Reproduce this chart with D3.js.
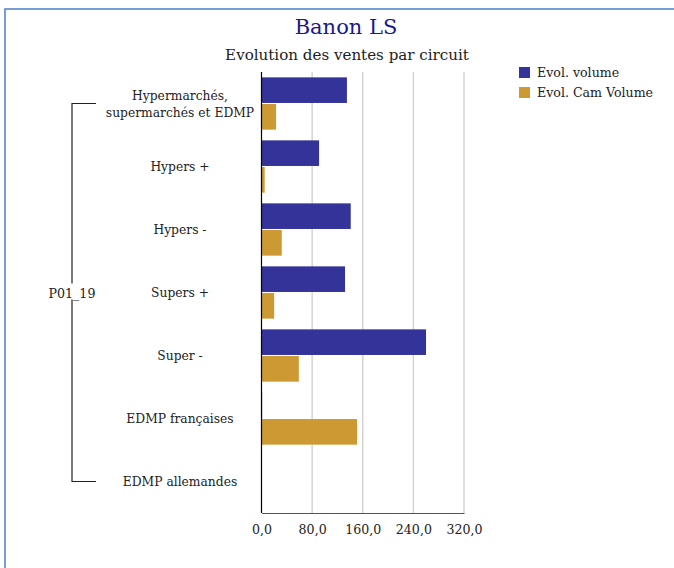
<!DOCTYPE html>
<html>
<head>
<meta charset="utf-8">
<script src="https://cdn.jsdelivr.net/npm/d3@7"></script>
<style>
  body { margin: 0; background: #fff; }
  text { font-family: "DejaVu Serif", "Liberation Serif", serif; fill: #222; }
</style>
</head>
<body>
<div class="graph"></div>
<script>
// categories (top to bottom) and the two series
var categories = [
  ["Hypermarchés,", "supermarchés et EDMP"],
  ["Hypers +"],
  ["Hypers -"],
  ["Supers +"],
  ["Super -"],
  ["EDMP françaises"],
  ["EDMP allemandes"]
];
var seriesNames = ["Evol. volume", "Evol. Cam Volume"];
var volume    = [135, 91, 141, 132, 260, 1, 0.5];
var camVolume = [23, 5, 32, 20, 59, 151, 0.5];
var xTicks = [0, 80, 160, 240, 320];
var groupLabel = "P01_19";

var W = 674, H = 568;
var margin = {top: 72, left: 261.5, right: 210, bottom: 55};
var width = 464 - margin.left,
    height = 513 - margin.top;

var color = d3.scaleOrdinal().domain(seriesNames).range(["#333399", "#cc9933"]);

var svg = d3.select(".graph").append("svg")
    .attr("width", W)
    .attr("height", H);

// frame
svg.append("rect")
    .attr("x", 5).attr("y", 9)
    .attr("width", W + 10).attr("height", H + 10)
    .attr("fill", "none")
    .attr("stroke", "#4a7fc8")
    .attr("stroke-width", 1.5);

svg.append("text")
    .attr("x", 346).attr("y", 34)
    .attr("text-anchor", "middle")
    .style("font-size", "21px")
    .style("fill", "#1a1a8c")
    .text("Banon LS");

svg.append("text")
    .attr("x", 347).attr("y", 60)
    .attr("text-anchor", "middle")
    .style("font-size", "15.1px")
    .text("Evolution des ventes par circuit");

var g = svg.append("g")
    .attr("transform", "translate(" + margin.left + "," + margin.top + ")");

var x = d3.scaleLinear().domain([0, 320]).range([0, width]);
var y0 = d3.scaleBand().domain(d3.range(categories.length)).range([0, height]).paddingInner(0.17).paddingOuter(0.085);
var y1 = d3.scaleBand().domain(seriesNames).range([0, y0.bandwidth()]).paddingInner(0.04);

// grid
g.selectAll(".grid").data(xTicks.slice(1))
  .enter().append("line")
    .attr("class", "grid")
    .attr("x1", function(d) { return x(d); })
    .attr("x2", function(d) { return x(d); })
    .attr("y1", 0).attr("y2", height)
    .attr("stroke", "#d4d4d4")
    .attr("stroke-width", 1.5);

var rows = categories.map(function(c, i) {
  return [
    {name: seriesNames[0], value: volume[i]},
    {name: seriesNames[1], value: camVolume[i]}
  ];
});

var grp = g.selectAll(".cat").data(rows)
  .enter().append("g")
    .attr("class", "cat")
    .attr("transform", function(d, i) { return "translate(0," + y0(i) + ")"; });

grp.selectAll("rect").data(function(d) { return d; })
  .enter().append("rect")
    .attr("x", 0)
    .attr("y", function(d) { return y1(d.name); })
    .attr("width", function(d) { return x(d.value); })
    .attr("height", y1.bandwidth())
    .style("fill", function(d) { return color(d.name); });

// zero line and bottom axis
g.append("line")
    .attr("x1", 0).attr("x2", 0).attr("y1", 0).attr("y2", height)
    .attr("stroke", "#000").attr("stroke-width", 1.2);

var xAxis = d3.axisBottom(x).tickValues(xTicks).tickSize(0).tickPadding(12)
    .tickFormat(function(d) { return d3.format(".1f")(d).replace(".", ","); });

var ax = g.append("g")
    .attr("transform", "translate(0," + height + ")")
    .call(xAxis);
ax.select(".domain").attr("stroke", "#555").attr("stroke-width", 1.2);
ax.selectAll("text").style("font-size", "12.6px").style("fill", "#222");

// category labels
var labelX = 180;
categories.forEach(function(lines, i) {
  var cy = margin.top + y0(i) + y0.bandwidth() / 2;
  var t = svg.append("text")
      .attr("x", labelX)
      .attr("text-anchor", "middle")
      .style("font-size", "12.3px");
  lines.forEach(function(l, k) {
    t.append("tspan")
      .attr("x", labelX)
      .attr("y", cy + 4.5 + (k - (lines.length - 1) / 2) * 17)
      .text(l);
  });
});

// bracket for the group
var yTop = margin.top + y0(0) + y0.bandwidth() / 2;
var yBot = margin.top + y0(categories.length - 1) + y0.bandwidth() / 2;
var bx = 72;
svg.append("path")
    .attr("d", "M96," + yTop + "H" + bx + "V" + yBot + "H96")
    .attr("fill", "none")
    .attr("stroke", "#222")
    .attr("stroke-width", 1.2);
var midY = (yTop + yBot) / 2;
svg.append("rect")
    .attr("x", 46).attr("y", midY - 9)
    .attr("width", 54).attr("height", 16)
    .attr("fill", "#fff");
svg.append("text")
    .attr("x", bx).attr("y", midY + 5)
    .attr("text-anchor", "middle")
    .style("font-size", "12.6px")
    .text(groupLabel);

// legend
var legend = svg.selectAll(".legend").data(seriesNames)
  .enter().append("g")
    .attr("class", "legend")
    .attr("transform", function(d, i) { return "translate(519," + (67 + i * 20) + ")"; });
legend.append("rect")
    .attr("width", 11).attr("height", 11)
    .style("fill", color);
legend.append("text")
    .attr("x", 18).attr("y", 10)
    .style("font-size", "12.6px")
    .text(function(d) { return d; });
</script>
</body>
</html>
